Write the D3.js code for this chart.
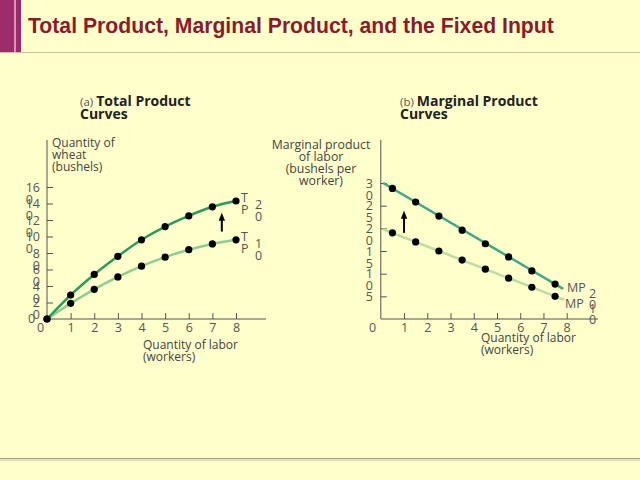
<!DOCTYPE html>
<html><head><meta charset="utf-8">
<script src="https://cdn.jsdelivr.net/npm/d3@7"></script>
<style>
body{margin:0;padding:0;background:#FFFFCC;}
svg{display:block;}
</style></head>
<body>
<svg id="c" width="640" height="480" font-family="'Open Sans',sans-serif"></svg>
<script>
// ---- data ----
const labor = [0,1,2,3,4,5,6,7,8];
const tp10 = [0,19,36,51,64,75,84,91,96];
const tp20 = [0,29,54,76,96,112,125,136,143];
const mpLabor = [0.5,1.5,2.5,3.5,4.5,5.5,6.5,7.5];
const mp10 = [19,17,15,13,11,9,7,5];
const mp20 = [28.8,25.8,22.7,19.6,16.6,13.7,10.6,7.7];
const mp20LineX = [0.1,7.85];
const mp10LineX = [0.1,7.9];
const xTicks = [1,2,3,4,5,6,7,8];
const tpTicks = [20,40,60,80,100,120,140,160];
const mpTicks = [5,10,15,20,25,30];

const svg = d3.select("#c");
svg.append("rect").attr("width",640).attr("height",480).attr("fill","#FFFFCC");
// header decoration
svg.append("rect").attr("x",0).attr("y",0).attr("width",21).attr("height",52).attr("fill","#9c2d6b");
svg.append("rect").attr("x",14).attr("y",0).attr("width",2).attr("height",52).attr("fill","#e58fbb");
svg.append("line").attr("x1",0).attr("x2",640).attr("y1",52.5).attr("y2",52.5).attr("stroke","#c9bfa0").attr("stroke-width",1);
svg.append("line").attr("x1",0).attr("x2",640).attr("y1",458.5).attr("y2",458.5).attr("stroke","#a8a088").attr("stroke-width",1);
svg.append("line").attr("x1",0).attr("x2",640).attr("y1",460).attr("y2",460).attr("stroke","#c8c0a8").attr("stroke-width",1);
svg.append("text").attr("x",28).attr("y",33).text("Total Product, Marginal Product, and the Fixed Input")
  .style("font-family","'Liberation Sans',Arial,sans-serif").attr("font-weight","bold").attr("font-size",21.2).attr("fill","#8b1a2c");

// panel titles
function panelTitle(x, tag, t1){
  const t = svg.append("text").attr("x",x).attr("y",106).attr("fill","#222");
  t.append("tspan").text(tag+" ").attr("font-size",11.5).attr("fill","#555");
  t.append("tspan").text(t1).attr("font-size",14).attr("font-weight","bold");
  svg.append("text").attr("x",x).attr("y",119).attr("font-size",14).attr("font-weight","bold").attr("fill","#222").text("Curves");
}
panelTitle(80,"(a)","Total Product");
panelTitle(400,"(b)","Marginal Product");

const axisColor = "#555", labColor = "#555";
function multiLine(sel, x, y, lines, anchor, lh, size, color){
  const t = sel.append("text").attr("x",x).attr("y",y).attr("text-anchor",anchor).attr("font-size",size).attr("fill",color);
  lines.forEach((l,i)=>t.append("tspan").attr("x",x).attr("dy",i?lh:0).text(l));
  return t;
}

// ---- left panel ----
const xL = d3.scaleLinear().domain([0,8]).range([47,236]);
const yL = d3.scaleLinear().domain([0,160]).range([319,187]);
const gL = svg.append("g");
const axL = d3.axisBottom(xL).tickValues(xTicks).tickSizeInner(-6).tickSizeOuter(0).tickFormat(d3.format("d"));
const gxL = gL.append("g").attr("transform","translate(0,319)").call(axL);
gxL.select(".domain").attr("d","M47,0H266");
const ayL = d3.axisLeft(yL).tickValues(tpTicks).tickSizeInner(-6).tickSizeOuter(0);
const gyL = gL.append("g").attr("transform","translate(47,0)").call(ayL);
gyL.select(".domain").attr("d","M0,0V-179").attr("transform","translate(0,319)");
[gxL,gyL].forEach(g=>{g.attr("font-family",null).attr("font-size",null);g.selectAll("path,line").attr("stroke",axisColor);g.selectAll("text").attr("font-size",12.5).attr("fill",labColor);});
gxL.selectAll("text").attr("dy",null).attr("y",13);
gyL.selectAll(".tick text").each(function(d){
  const s = String(d), sel = d3.select(this);
  const l1 = s.slice(0,s.length-1), l2 = s.slice(-1);
  sel.text(null).attr("text-anchor","start").attr("dy",null).attr("x",null);
  sel.append("tspan").text(l1);
  const w = this.getComputedTextLength();
  sel.text(null);
  const x0 = -7 - w;
  sel.append("tspan").attr("x",x0).attr("y",4).text(l1);
  sel.append("tspan").attr("x",x0).attr("y",16).text(l2);
});
gL.append("text").attr("x",28).attr("y",323).attr("font-size",12.5).attr("fill",labColor).text("0");
gL.append("text").attr("x",37).attr("y",332).attr("font-size",12.5).attr("fill",labColor).text("0");

const lineL = d3.line().x((d,i)=>xL(labor[i])).y(d=>yL(d)).curve(d3.curveMonotoneX);
gL.append("path").attr("d",lineL(tp10)).attr("fill","none").attr("stroke","#8fcc92").attr("stroke-width",2.5);
gL.append("path").attr("d",lineL(tp20)).attr("fill","none").attr("stroke","#2b9a5c").attr("stroke-width",2.5);
[tp10,tp20].forEach(arr=>{
  gL.selectAll(null).data(arr).enter().append("circle")
    .attr("cx",(d,i)=>xL(labor[i])).attr("cy",d=>yL(d)).attr("r",3.6).attr("fill","#000");
});
multiLine(gL,241,202,["T","P"],"start",12,12.5,"#555");
multiLine(gL,255,209,["2","0"],"start",12,12.5,"#555");
multiLine(gL,241,241,["T","P"],"start",12,12.5,"#555");
multiLine(gL,255,248,["1","0"],"start",12,12.5,"#555");

svg.append("defs").append("marker").attr("id","ah").attr("viewBox","0 0 10 10").attr("refX",5).attr("refY",5)
  .attr("markerWidth",4).attr("markerHeight",5).attr("orient","auto")
  .append("path").attr("d","M0,1L10,5L0,9z").attr("fill","#000");
gL.append("line").attr("x1",xL(7.4)).attr("x2",xL(7.4)).attr("y1",yL(106)).attr("y2",yL(124))
  .attr("stroke","#000").attr("stroke-width",2).attr("marker-end","url(#ah)");

multiLine(gL,52,147,["Quantity of","wheat","(bushels)"],"start",12,12,"#444");
multiLine(gL,143,349,["Quantity of labor","(workers)"],"start",12,12,"#444");

// ---- right panel ----
const xR = d3.scaleLinear().domain([0,8]).range([380.8,566.7]);
const yR = d3.scaleLinear().domain([0,30]).range([319,183]);
const gR = svg.append("g");
const axR = d3.axisBottom(xR).tickValues(xTicks).tickSizeInner(-6).tickSizeOuter(0).tickFormat(d3.format("d"));
const gxR = gR.append("g").attr("transform","translate(0,319)").call(axR);
gxR.select(".domain").attr("d","M380.8,0H598");
const ayR = d3.axisLeft(yR).tickValues(mpTicks).tickSizeInner(-6).tickSizeOuter(0);
const gyR = gR.append("g").attr("transform","translate(380.8,0)").call(ayR);
gyR.select(".domain").attr("d","M0,0V-179").attr("transform","translate(0,319)");
[gxR,gyR].forEach(g=>{g.attr("font-family",null).attr("font-size",null);g.selectAll("path,line").attr("stroke",axisColor);g.selectAll("text").attr("font-size",12.5).attr("fill",labColor);});
gxR.selectAll("text").attr("dy",null).attr("y",13);
gyR.selectAll(".tick text").each(function(d){
  const s = String(d), sel = d3.select(this);
  sel.text(null).attr("dy",null).attr("text-anchor","end");
  s.split("").forEach((c,i)=>sel.append("tspan").attr("x",-8).attr("y",4+i*12).text(c));
});
gR.append("text").attr("x",369).attr("y",332).attr("font-size",12.5).attr("fill",labColor).text("0");

const lineR = d3.line().x(d=>xR(d[0])).y(d=>yR(d[1]));
function ext(xs, ys, ex){
  const n = xs.length, s = (ys[n-1]-ys[0])/(xs[n-1]-xs[0]);
  return ex.map(x=>[x, ys[0]+s*(x-xs[0])]);
}
gR.append("path").attr("d",lineR(ext(mpLabor,mp10,mp10LineX))).attr("fill","none").attr("stroke","#bcdca6").attr("stroke-width",2.5);
gR.append("path").attr("d",lineR(ext(mpLabor,mp20,mp20LineX))).attr("fill","none").attr("stroke","#3fa88c").attr("stroke-width",2.5);
[mp10,mp20].forEach(arr=>{
  gR.selectAll(null).data(arr).enter().append("circle")
    .attr("cx",(d,i)=>xR(mpLabor[i])).attr("cy",d=>yR(d)).attr("r",3.6).attr("fill","#000");
});
gR.append("text").attr("x",567).attr("y",292).attr("font-size",12.5).attr("fill","#555").text("MP");
gR.append("text").attr("x",565).attr("y",308).attr("font-size",12.5).attr("fill","#555").text("MP");
multiLine(gR,589,298,["2","0"],"start",11,12.5,"#555");
multiLine(gR,589,313,["1","0"],"start",11,12.5,"#555");
gR.append("line").attr("x1",xR(1)).attr("x2",xR(1)).attr("y1",yR(19)).attr("y2",yR(23))
  .attr("stroke","#000").attr("stroke-width",2).attr("marker-end","url(#ah)");

multiLine(gR,321,149,["Marginal product","of labor","(bushels per","worker)"],"middle",12,12.3,"#444");
multiLine(gR,481,342,["Quantity of labor","(workers)"],"start",12,12,"#444");
</script>
</body></html>
